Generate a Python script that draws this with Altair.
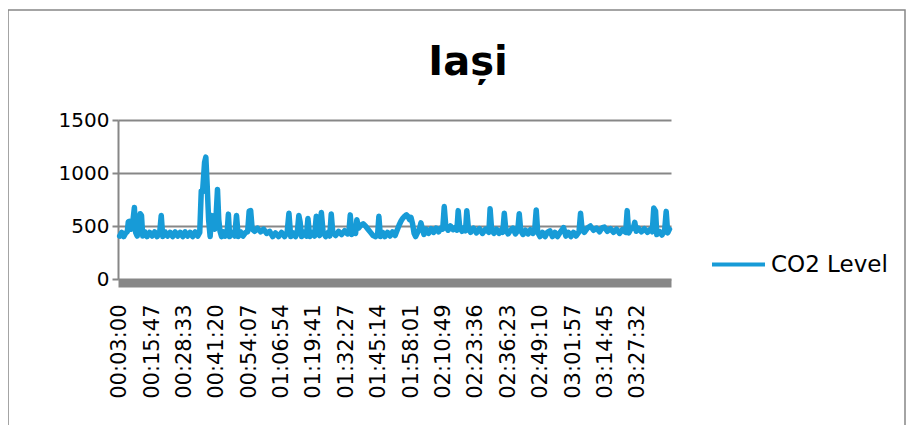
import altair as alt
import pandas as pd

# elapsed time in minutes and CO2 level (ppm)
minutes = [
    3.0, 3.8, 4.6, 5.4, 6.0, 6.4, 6.9, 7.5, 8.1, 8.8, 9.3, 9.9, 10.5, 11.1, 11.6, 12.1,
    12.9, 13.8, 14.8, 15.8, 16.8, 17.8, 18.8, 19.4, 20.0, 20.9, 21.9, 22.9, 23.9, 24.9,
    25.9, 26.9, 27.9, 28.8, 29.8, 30.8, 31.8, 32.8, 33.8, 34.6, 35.2, 35.7, 36.5, 37.0,
    37.5, 38.1, 38.7, 39.3, 39.9, 40.5, 41.1, 41.6, 42.1, 42.6, 43.2, 44.0, 44.6, 45.4,
    45.9, 46.4, 47.4, 48.4, 49.1, 49.8, 50.7, 51.7, 52.7, 53.5, 54.1, 54.7, 55.3, 56.3,
    57.4, 58.6, 59.8, 61.0, 62.2, 63.4, 64.5, 65.7, 66.9, 68.1, 69.1, 69.8, 70.5, 71.5,
    72.4, 73.1, 73.7, 74.2, 74.8, 75.8, 76.7, 77.3, 78.0, 78.9, 79.9, 80.6, 81.3, 81.9,
    82.6, 83.3, 84.3, 85.3, 85.9, 86.5, 87.1, 88.2, 89.4, 90.6, 91.8, 92.9, 93.5, 94.0,
    94.6, 95.5, 96.1, 96.6, 97.3, 98.1, 99.1, 100.0, 101.0, 102.0, 103.0, 104.0, 104.8,
    105.3, 105.9, 106.8, 107.7, 108.7, 109.7, 110.7, 111.7, 112.5, 113.3, 114.1, 114.8,
    115.6, 116.2, 116.8, 117.4, 118.0, 118.6, 119.2, 119.8, 120.6, 121.4, 121.9, 122.5,
    123.1, 123.9, 124.9, 125.9, 126.9, 127.9, 128.9, 129.8, 130.5, 131.1, 131.7, 132.6,
    133.6, 134.6, 135.6, 136.1, 136.6, 137.2, 138.1, 138.9, 139.5, 140.0, 140.6, 141.5,
    142.7, 143.8, 145.0, 146.2, 147.4, 148.7, 149.2, 149.8, 150.7, 151.7, 152.7, 153.7,
    154.2, 154.8, 155.4, 156.3, 157.3, 158.2, 159.2, 160.1, 160.7, 161.3, 162.2, 163.2,
    164.2, 165.1, 166.1, 166.8, 167.4, 168.0, 168.9, 169.9, 170.9, 171.8, 172.8, 173.8,
    174.8, 175.8, 177.0, 178.2, 179.1, 180.1, 181.1, 182.1, 183.1, 184.3, 184.9, 185.5,
    186.4, 187.6, 188.8, 190.0, 191.2, 192.4, 193.5, 194.3, 195.5, 196.7, 197.9, 199.1,
    200.3, 201.4, 202.7, 203.3, 203.9, 204.8, 205.7, 206.3, 206.9, 207.7, 208.9, 210.1,
    211.3, 212.5, 213.2, 213.8, 214.5, 215.0, 216.0, 217.0, 218.1, 218.7, 219.3, 220.0,
]
co2 = [
    405, 440, 400, 435, 445, 540, 545, 470, 520, 675, 440, 405, 470, 615, 600, 405,
    445, 400, 440, 405, 445, 400, 440, 600, 400, 445, 405, 440, 400, 445,
    405, 440, 400, 445, 405, 440, 400, 445, 405, 440, 830, 820, 1100, 1150,
    900, 560, 400, 600, 520, 470, 620, 845, 560, 450, 400, 445, 405, 440,
    612, 400, 440, 405, 600, 400, 445, 405, 440, 445, 640, 645, 470, 450,
    480, 445, 470, 430, 450, 400, 435, 400, 440, 400, 440, 620, 400, 435,
    400, 440, 600, 540, 400, 440, 405, 570, 400, 440, 405, 592, 440, 410,
    628, 440, 400, 440, 405, 613, 440, 410, 450, 420, 455, 425, 450, 605,
    420, 450, 430, 560, 480, 505, 520, 500, 470, 440, 410, 400, 420,
    591, 400, 440, 400, 440, 405, 445, 410, 460, 510, 550, 575,
    595, 605, 590, 560, 580, 520, 430, 400, 440, 480, 530, 470,
    420, 470, 430, 475, 440, 480, 445, 480, 470, 683, 500, 460,
    500, 465, 490, 460, 645, 490, 450, 485, 455, 645, 485, 440,
    480, 435, 475, 430, 470, 440, 662, 465, 430, 470, 430, 465,
    440, 620, 465, 425, 460, 480, 425, 455, 615, 455, 420, 460,
    425, 465, 430, 460, 652, 440, 400, 440, 400, 440, 455, 400,
    440, 400, 445, 485, 405, 440, 400, 440, 405, 445, 620, 470,
    440, 480, 500, 460, 480, 445, 485, 490, 450, 475, 440, 470,
    430, 465, 440, 645, 435, 475, 480, 535, 450, 480, 445, 475,
    440, 470, 445, 670, 640, 420, 450, 415, 460, 638, 435, 470,
]
tick_labels = [
    "00:03:00", "00:15:47", "00:28:33", "00:41:20", "00:54:07", "01:06:54",
    "01:19:41", "01:32:27", "01:45:14", "01:58:01", "02:10:49", "02:23:36",
    "02:36:23", "02:49:10", "03:01:57", "03:14:45", "03:27:32",
]
y_ticks = [0, 500, 1000, 1500]
series_name = "CO2 Level"
chart_title = "Iași"


def to_seconds(label):
    h, m, s = (int(p) for p in label.split(":"))
    return h * 3600 + m * 60 + s


tick_values = [to_seconds(t) for t in tick_labels]
df = pd.DataFrame({
    "t": [round(m * 60) for m in minutes],
    "co2": co2,
    "series": [series_name] * len(co2),
})

FONT = "DejaVu Sans"
GRAY = "#878787"
BLUE = "#179BD7"

line = alt.Chart(df).mark_line(
    strokeWidth=5.5, strokeCap="round", strokeJoin="round"
).encode(
    x=alt.X(
        "t:Q",
        scale=alt.Scale(domain=[140, 13236], nice=False, zero=False),
        axis=alt.Axis(
            values=tick_values,
            labelExpr="utcFormat(datum.value * 1000, '%H:%M:%S')",
            labelAngle=270,
            labelFont=FONT,
            labelFontSize=21,
            labelColor="#000000",
            labelPadding=21,
            labelOverlap=False,
            labelFlush=False,
            ticks=False,
            grid=False,
            domainColor=GRAY,
            domainWidth=8,
            offset=4,
            title=None,
        ),
    ),
    y=alt.Y(
        "co2:Q",
        scale=alt.Scale(domain=[0, 1500], nice=False),
        axis=alt.Axis(
            values=y_ticks,
            format="d",
            labelFont=FONT,
            labelFontSize=20,
            labelColor="#000000",
            labelPadding=3,
            tickSize=6,
            tickColor=GRAY,
            tickWidth=2,
            domainColor=GRAY,
            domainWidth=2,
            gridColor=GRAY,
            gridWidth=2,
            title=None,
        ),
    ),
    color=alt.Color(
        "series:N",
        scale=alt.Scale(domain=[series_name], range=[BLUE]),
        legend=alt.Legend(
            title=None,
            orient="none",
            legendX=592,
            legendY=116,
            symbolType="stroke",
            symbolSize=2809,
            symbolStrokeWidth=4,
            labelFont=FONT,
            labelFontSize=23,
            labelColor="#000000",
            labelOffset=4,
            padding=0,
        ),
    ),
)

border = alt.Chart(alt.Data(values=[{}])).mark_rect(
    fill="transparent", stroke=GRAY, strokeWidth=1.5
).encode(
    x=alt.value(-110), x2=alt.value(787), y=alt.value(-110), y2=alt.value(340)
)

title = alt.Chart(alt.Data(values=[{"label": chart_title}])).mark_text(
    font=FONT, fontSize=40, fontWeight="bold", color="#000000",
    align="center", baseline="alphabetic",
).encode(
    text="label:N", x=alt.value(350), y=alt.value(-45)
)

chart = alt.layer(border, title, line).properties(
    width=553,
    height=159,
    padding={"left": 110, "top": 112, "right": 236, "bottom": 146},
    autosize=alt.AutoSizeParams(type="none"),
    background="#ffffff",
).configure_view(stroke=None)

chart.save("out.html", embed_options={"renderer": "svg", "actions": False})
